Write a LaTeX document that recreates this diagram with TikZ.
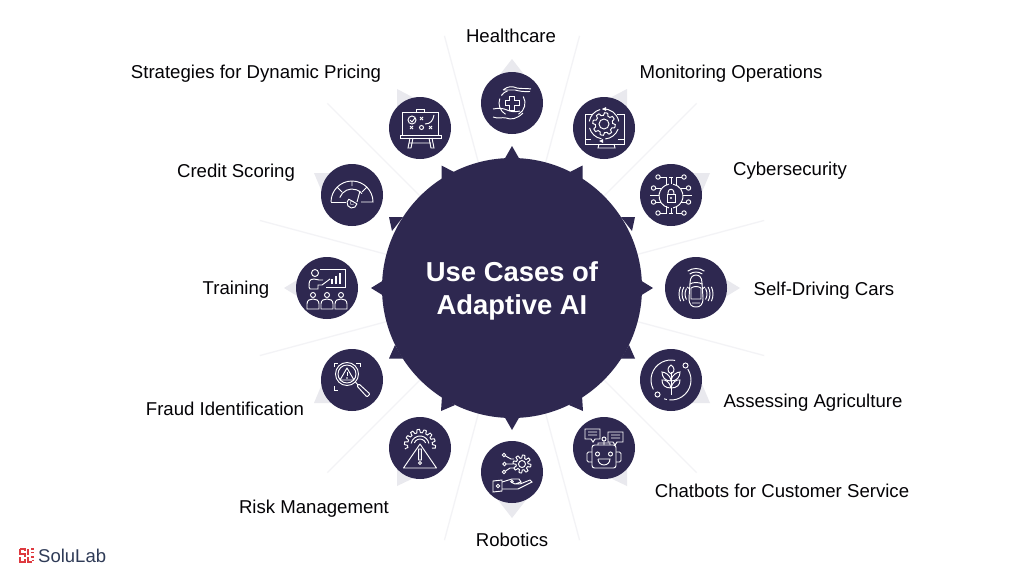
\documentclass[tikz,border=0pt]{standalone}
\usepackage{fontspec}
\setmainfont{Liberation Sans}
\definecolor{navy}{HTML}{2E2850}
\definecolor{tri}{HTML}{E9E9EE}
\definecolor{rayc}{HTML}{F3F3F6}
\definecolor{logored}{HTML}{DE3A40}
\definecolor{logotxt}{HTML}{2F3B57}
\newcommand\ac[5]{({#1+#3*cos(#4)},{#2+#3*sin(#4)}) arc[start angle=#4,end angle=#5,radius=#3]}
\newcommand\gearp[7]{plot[domain=#6:#7,samples=121,variable=\t] ({#1+(#3+#4*max(-1,min(1,3*sin(#5*\t))))*cos(\t)},{#2+(#3+#4*max(-1,min(1,3*sin(#5*\t))))*sin(\t)})}
\newcommand\icHealth{
  \draw[ic] (-9,-13) .. controls (-4,-17) and (0,-17) .. (5,-15) .. controls (9,-14) and (14,-15) .. (19,-14) (18,-11.5) .. controls (12,-11) and (7,-12) .. (3,-13) .. controls (0,-13) and (-5,-13) .. (-9,-13);
  \draw[ic] (-19,6) .. controls (-14,5) and (-9,5) .. (-5,7) .. controls (-1,9) and (3,9) .. (8,8) (11,10) .. controls (5,16) and (-1,17) .. (-6,15) .. controls (-10,14) and (-14,16) .. (-19,14);
  \draw[ic] \ac{0}{0}{13}{120}{200} \ac{0}{0}{13}{215}{250} \ac{0}{0}{13}{-30}{60};
  \draw[ic] (-2.5,-7) -- (2.5,-7) -- (2.5,-2.5) -- (7,-2.5) -- (7,2.5) -- (2.5,2.5) -- (2.5,7) -- (-2.5,7) -- (-2.5,2.5) -- (-7,2.5) -- (-7,-2.5) -- (-2.5,-2.5) -- cycle;
}
\newcommand\icMonitor{
  \draw[ic] (-12,-14) -- (-19,-14) -- (-19,16) -- (20,16) -- (20,-14) -- (13,-14);
  \draw[ic] (-19,11) -- (-13,11) (14,11) -- (20,11);
  \draw[ic] (-5,16) -- (-6,20) -- (11,20) -- (10,16);
  \draw[ic,fill=navy] \gearp{0}{-4}{10}{1.3}{8}{0}{360} -- cycle;
  \draw[ic] (0,-4) circle (5);
  \draw[ic] \ac{0}{-4}{15}{-95}{-10} \ac{0}{-4}{15}{20}{85} \ac{0}{-4}{15}{100}{165} \ac{0}{-4}{15}{190}{255};
  \fill[white] (2,-21) -- (-2,-19) -- (2,-17) -- cycle (-5,13) -- (-1,11) -- (-1,15) -- cycle;
}
\newcommand\icCyber{
  \draw[ic] \ac{0}{1}{12}{-80}{80} \ac{0}{1}{12}{100}{260};
  \draw[ic] (-4,-1) rectangle (4,7);
  \draw[ic] (-2.8,-1) -- (-2.8,-3) arc[start angle=180,end angle=360,radius=2.8] -- (2.8,-1);
  \fill[white] (0,3) circle (1.2);
  \foreach \s in {-1,1}{
    \draw[ic] (\s*13,-18) circle (2.2) (\s*13,18) circle (2.2) (\s*17.5,-7) circle (2.2) (\s*17.5,7) circle (2.2);
    \draw[ic] (\s*10.8,-18) -- (\s*5,-18) -- (\s*5,-10) (\s*10.8,18) -- (\s*5,18) -- (\s*5,11);
    \draw[ic] (\s*15.3,-7) -- (\s*10,-7) (\s*15.3,7) -- (\s*10,7) (\s*21,0) -- (\s*12,0);
  }
  \draw[ic] (0,-18) -- (0,-11) (-2,-18) -- (2,-18) (0,18) -- (0,13) (-2,18) -- (2,18);
}
\newcommand\icCar{
  \draw[ic] (-6,-5) .. controls (-6,-11) and (-3,-13) .. (0,-13) .. controls (3,-13) and (6,-11) .. (6,-5) -- (7,10) .. controls (7,17) and (4,19) .. (0,19) .. controls (-4,19) and (-7,17) .. (-7,10) -- cycle;
  \draw[ic] (-6,-4) .. controls (-3,-6) and (3,-6) .. (6,-4) (-5,0) -- (-5,11) -- (5,11) -- (5,0) (-5,0) .. controls (-2,-2) and (2,-2) .. (5,0) (-4,15) -- (4,15);
  \draw[ic] (-9,-1) -- (-6,1) (9,-1) -- (6,1);
  \draw[ic] \ac{0}{-5}{11}{-125}{-55} \ac{0}{-5}{14.5}{-125}{-55};
  \draw[ic] \ac{0}{6}{11}{150}{210} \ac{0}{6}{14}{150}{210} \ac{0}{6}{17}{155}{205};
  \draw[ic] \ac{0}{6}{11}{-30}{30} \ac{0}{6}{14}{-30}{30} \ac{0}{6}{17}{-25}{25};
}
\newcommand\icAgri{
  \draw[ic] \ac{0}{0}{20}{-33}{95} \ac{0}{0}{20}{102}{110} \ac{0}{0}{20}{152}{282};
  \draw[ic] (14.5,-14.5) circle (2.5) (-13.5,14.5) circle (2.5);
  \draw[ic] (0,-8) -- (0,15);
  \draw[ic] (0,-6) .. controls (-5,-9) and (-3,-13) .. (0,-15) .. controls (3,-13) and (5,-9) .. (0,-6);
  \foreach \s in {-1,1}{
    \draw[ic] (0,0) .. controls (\s*1,-5) and (\s*6,-8) .. (\s*9,-8) .. controls (\s*9,-3) and (\s*6,1) .. (0,1);
    \draw[ic] (0,8) .. controls (\s*1,2) and (\s*6,-1) .. (\s*9,0) .. controls (\s*9,5) and (\s*6,8) .. (0,8);
  }
}
\newcommand\icBot{
  \draw[ic,rounded corners=2.5] (-12,-3) rectangle (12,20);
  \draw[ic,rounded corners=1.5] (-12,4) -- (-17,4) -- (-17,14) -- (-12,14) (12,4) -- (17,4) -- (17,14) -- (12,14);
  \draw[ic] (-6.5,6) circle (2) (6.5,6) circle (2);
  \draw[ic] (-6,11) -- (6,11) arc[start angle=0,end angle=180,radius=6];
  \draw[ic] (0,-9) circle (2) (0,-7) -- (0,-3) (-6,-3) -- (-6,-5) -- (6,-5) -- (6,-3);
  \draw[ic] (-19,-19) -- (-4,-19) -- (-4,-9) -- (-9,-9) -- (-11,-6) -- (-13,-9) -- (-19,-9) -- cycle (-16,-16) -- (-7,-16) (-16,-13) -- (-7,-13);
  \draw[ic] (4,-16) -- (19,-16) -- (19,-6) -- (13,-6) -- (11,-3) -- (9,-6) -- (4,-6) -- cycle (7,-13) -- (16,-13) (7,-10) -- (16,-10);
}
\newcommand\icRobo{
  \draw[ic] \gearp{10}{-8}{7.5}{1.5}{8}{0}{360} -- cycle;
  \draw[ic] (10,-8) circle (3.5);
  \draw[ic] (-8,-17) circle (1.8) (-7.5,-8) circle (1.8) (-8,0) circle (1.8);
  \draw[ic] (-6.5,-16) -- (-1,-13) -- (2,-13) (-5.5,-8) -- (1,-8) (-6.5,-1) -- (-2,-4) -- (3,-4);
  \draw[ic] (-19,9) -- (-10,8) -- (-10,19) -- (-19,20) -- cycle;
  \draw[ic] (-10,10) -- (0,7) -- (7,7) -- (9,10) -- (3,12) (-10,17) -- (6,17) -- (20,10) -- (18,8) -- (8,12) -- (3,12) -- (-1,10);
  \draw[ic] (-14,14) circle (1.8) (0,9.5) circle (1.2);
}
\newcommand\icRisk{
  \draw[ic] \gearp{0}{-3}{14}{1.6}{14}{165}{375};
  \draw[ic] \ac{0}{-3}{9}{190}{350} \ac{0}{-3}{6}{200}{340};
  \draw[ic,fill=navy,line join=round] (0,-4) -- (16.5,20) -- (-16.5,20) -- cycle;
  \draw[ic] (-1.3,1) rectangle (1.3,12) (0,15) circle (1.5);
}
\newcommand\icFraud{
  \draw[ic] (-5,-6) circle (11.5) (-5,-6) circle (9);
  \draw[ic,line join=round] (-5,-12) -- (2,0) -- (-12,0) -- cycle;
  \draw[ic] (-5,-8) -- (-5,-4);
  \fill[white] (-5,-2) circle (0.8);
  \draw[ic] (3.5,2) -- (6,5);
  \draw[ic,rounded corners=1] (5,6) -- (7,4) -- (18,14) -- (15,17) -- cycle;
  \draw[ic] (-18,-13) -- (-18,-17) -- (-14,-17) (4,-17) -- (8,-17) -- (8,-13) (-18,6) -- (-18,10) -- (-14,10);
}
\newcommand\icTrain{
  \draw[ic] (-7,-19) -- (18,-19) -- (18,-1) -- (-1,-1);
  \foreach \x/\h in {5/5,9/8,13/11}{\draw[ic,line width=1.3] (\x,-4) -- (\x,-4-\h);}
  \draw[ic] (-12,-15) circle (3.5);
  \draw[ic] (-4,-8) -- (-8,-8) -- (-13,-9) .. controls (-18,-9) and (-18,-6) .. (-18,-1) -- (-17,1) -- (-9,1) -- (-9,-3) -- (-5,-3) -- (3,-9);
  \foreach \x in {-14,0,14}{
    \draw[ic] (\x,7) circle (2.5);
    \draw[ic] (\x-6,21) -- (\x-6,16) .. controls (\x-6,12) and (\x-3,11) .. (\x,11) .. controls (\x+3,11) and (\x+6,12) .. (\x+6,16) -- (\x+6,21) -- cycle;
  }
}
\newcommand\icCredit{
  \draw[ic] \ac{0}{7}{21}{180}{360} -- (9,7);
  \draw[ic] (-21,7) -- (-6,7);
  \draw[ic] \ac{0}{7}{13}{200}{320};
  \draw[ic] (0,-14) -- (0,-9) (-15,-8) -- (-10,-3) (15,-8) -- (10,-3);
  \draw[ic,line join=round] (8,-4) -- (5,7) \ac{0}{8}{5}{10}{230} -- cycle;
  \node[font=\fontsize{6}{6}\selectfont,text=white,inner sep=0pt] (cr) at (0,8) {C};
}
\tikzset{
  ic/.style={draw=white,line width=0.95pt,fill=none},
  spike/.style={fill=navy,draw=none},
  ghost/.style={fill=tri,draw=none},
  ray/.style={draw=rayc,line width=1.3pt},
  disc/.style={circle,fill=navy,draw=none,minimum size=62pt,inner sep=0pt},
  lab/.style={text=black!92!navy,font=\fontsize{18.6}{20}\selectfont,inner sep=0pt,anchor=base},
}
\begin{document}
\begin{tikzpicture}[x=1pt,y=-1pt]
\useasboundingbox (0,0) rectangle (1024,576);
\fill[white] (0,0) rectangle (1024,576);
\path (512,288) coordinate (hc);
% rays
\foreach \a in {15,45,75,105,135,165,195,225,255,285,315,345}{
  \draw[ray] (hc) ++(-\a:130) coordinate (ra\a) -- ++(-\a:131) coordinate (rb\a);
}
% ghost triangles
\foreach \p in {1,-1}{
  \begin{scope}[shift={(512,0)},xscale=\p,shift={(-512,0)}]
  \fill[ghost] (627,89) -- (627,108) -- (606,100) -- cycle;
  \fill[ghost] (710,173) -- (690,173) -- (702,192) -- cycle;
  \fill[ghost] (740,288) -- (722,277) -- (722,299) -- cycle;
  \fill[ghost] (710,403) -- (690,403) -- (702,384) -- cycle;
  \fill[ghost] (627,486) -- (627,468) -- (606,476) -- cycle;
  \end{scope}
}
\fill[ghost] (512,59) -- (498,77) -- (526,77) -- cycle;
\fill[ghost] (512,518) -- (498,500) -- (526,500) -- cycle;
% spikes
\foreach \p in {1,-1}{
  \begin{scope}[shift={(512,0)},xscale=\p,shift={(-512,0)}]
  \fill[spike] (582.5,165.5) -- (582.5,185) -- (570,172) -- cycle;
  \fill[spike] (635,217) -- (621,217) -- (632,231) -- cycle;
  \fill[spike] (653,288) -- (640,280) -- (640,296) -- cycle;
  \fill[spike] (635,358.5) -- (621,358.5) -- (629,345) -- cycle;
  \fill[spike] (583,411) -- (569,405) -- (582,396) -- cycle;
  \end{scope}
}
\fill[spike] (512,146) -- (504,160) -- (520,160) -- cycle;
\fill[spike] (512,430) -- (504,416) -- (520,416) -- cycle;
\node[circle,fill=navy,minimum size=260pt,inner sep=0pt] (hub) at (hc) {};
\node[text=white,align=center,inner sep=0pt,font=\fontsize{27.4}{33}\selectfont\bfseries] (hubtxt) at (512,291) {Use Cases of\\Adaptive AI};
% icon discs
\node[disc] (c1) at (512,103) {};
\node[disc] (c2) at (604,128) {};
\node[disc] (c3) at (671,195) {};
\node[disc] (c4) at (696,288) {};
\node[disc] (c5) at (671,380) {};
\node[disc] (c6) at (604,448) {};
\node[disc] (c7) at (512,472) {};
\node[disc] (c8) at (420,448) {};
\node[disc] (c9) at (352,380) {};
\node[disc] (c10) at (327,288) {};
\node[disc] (c11) at (352,195) {};
\node[disc] (c12) at (420,128) {};
% icons
\begin{scope}[shift={(c1)}]\icHealth\end{scope}
\begin{scope}[shift={(c2)}]\icMonitor\end{scope}
\begin{scope}[shift={(c3)}]\icCyber\end{scope}
\begin{scope}[shift={(c4)}]\icCar\end{scope}
\begin{scope}[shift={(c5)}]\icAgri\end{scope}
\begin{scope}[shift={(c6)}]\icBot\end{scope}
\begin{scope}[shift={(c7)}]\icRobo\end{scope}
\begin{scope}[shift={(c8)}]\icRisk\end{scope}
\begin{scope}[shift={(c9)}]\icFraud\end{scope}
\begin{scope}[shift={(c10)}]\icTrain\end{scope}
\begin{scope}[shift={(c11)}]\icCredit\end{scope}
\begin{scope}[shift={(c12)}]
  \draw[ic] (-18,-16) rectangle (18,7);
  \draw[ic] (-3.5,-16) -- (-3.5,-19) -- (4.5,-19) -- (4.5,-16);
  \draw[ic] (-20,7) rectangle (21,10);
  \draw[ic] (-10,10) -- (-12,20) -- (-9,20) -- (-7,10) (9,10) -- (11,20) -- (14,20) -- (12,10) (-11,15) -- (11,15);
  \draw[ic] (-8,-8) circle (4) (-10,-8) -- (-8,-6) -- (-5,-10);
  \draw[ic] (0,-11) -- (3,-8) (3,-11) -- (0,-8);
  \draw[ic] (5,-4) .. controls (11,-4) and (13,-8) .. (14,-13);
  \draw[ic] (-10,-2) -- (-7,1) (-7,-2) -- (-10,1) (9,-2) -- (12,1) (12,-2) -- (9,1) (1.5,-0.5) circle (2);
\end{scope}
% labels
\node[lab] (l1) at (511,42) {Healthcare};
\node[lab] (l2) at (731,78.5) {Monitoring Operations};
\node[lab] (l3) at (790,175.5) {Cybersecurity};
\node[lab] (l4) at (824,295) {Self-Driving Cars};
\node[lab] (l5) at (813,407.5) {Assessing Agriculture};
\node[lab] (l6) at (782,497) {Chatbots for Customer Service};
\node[lab] (l7) at (512,546) {Robotics};
\node[lab] (l8) at (314,513.5) {Risk Management};
\node[lab] (l9) at (225,415) {Fraud Identification};
\node[lab] (l10) at (236,294) {Training};
\node[lab] (l11) at (236,177) {Credit Scoring};
\node[lab] (l12) at (256,78.5) {Strategies for Dynamic Pricing};
% logo
\begin{scope}[line width=1.7pt]
  \draw[logored] (20,549) -- (25,549) -- (25,551) (20,549) -- (20,554) -- (25,554) -- (25,557);
  \draw[logored] (28,549) -- (28,555) (31,549) -- (34,549) (31,552.5) -- (34,552.5);
  \draw[logored] (20,557) -- (20,562) -- (25,562) -- (25,559);
  \draw[logored] (28,557) -- (28,562) -- (32,562) (31,557) -- (34,557) (33,559.5) -- (33,561);
\end{scope}
\node[anchor=west,inner sep=0pt,text=logotxt,font=\fontsize{18.5}{20}\selectfont] (logo) at (38,556) {SoluLab};
\end{tikzpicture}
\end{document}
